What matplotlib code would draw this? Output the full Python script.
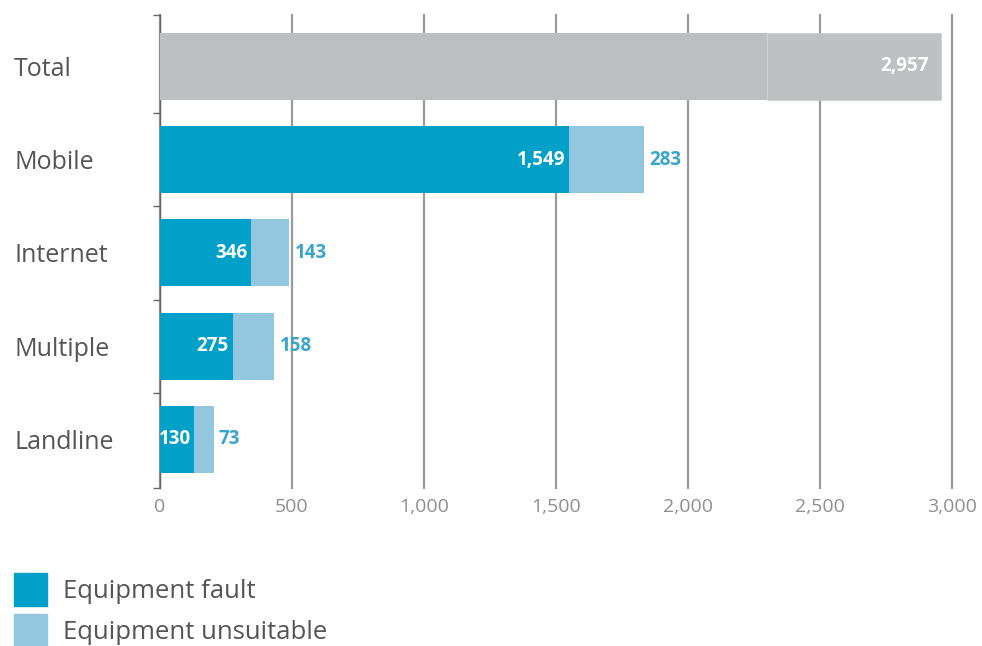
import matplotlib.pyplot as plt
from matplotlib.patches import Patch
from matplotlib.ticker import MultipleLocator, FuncFormatter

plt.rcParams["font.family"] = ["Open Sans", "DejaVu Sans"]

# data
categories = ["Total", "Mobile", "Internet", "Multiple", "Landline"]
fault = [1549, 346, 275, 130]
unsuitable = [283, 143, 158, 73]
total_fault = sum(fault)
total_unsuitable = sum(unsuitable)
total = total_fault + total_unsuitable

fault_color = "#00a0c8"
unsuit_color = "#93c6df"
label_blue = "#3aa5cc"
gray = "#bebfc1"

fig = plt.figure(figsize=(9.82, 6.46), dpi=100)
ax = fig.add_axes([160 / 982, 1 - 488 / 646, 792 / 982, 473 / 646])

h = 0.72
# Total bar: two gray segments (fault + unsuitable)
ax.barh(0, total_fault, height=h, color=gray, zorder=3)
ax.barh(0, total_unsuitable, left=total_fault, height=h, color="#bfc0c2",
        edgecolor="#c6c7c9", linewidth=0.4, zorder=3)
ax.text(total - 45, 0, f"{total:,}", color="white", fontweight="bold",
        fontsize=13.5, ha="right", va="center", zorder=4)

ys = list(range(1, len(categories)))
ax.barh(ys, fault, height=h, color=fault_color, zorder=3)
ax.barh(ys, unsuitable, left=fault, height=h, color=unsuit_color, zorder=3)
for y, f, u in zip(ys, fault, unsuitable):
    ax.text(f - 14, y, f"{f:,}", color="white", fontweight="bold",
            fontsize=13.5, ha="right", va="center", zorder=4)
    ax.text(f + u + 20, y, f"{u:,}", color=label_blue, fontweight="bold",
            fontsize=13.5, ha="left", va="center", zorder=4)

ax.set_xlim(0, 3000)
ax.set_ylim(4.52, -0.55)
ax.xaxis.set_major_locator(MultipleLocator(500))
ax.xaxis.set_major_formatter(FuncFormatter(lambda v, p: f"{int(v):,}"))
ax.grid(axis="x", color="#9a9a9a", linewidth=1.6, zorder=0)
for gl in ax.get_xgridlines():
    gl.set_clip_on(False)
ax.tick_params(axis="x", length=0, pad=7, labelsize=14, labelcolor="#8f8f8f")

ax.set_yticks(range(len(categories)))
ax.set_yticklabels(categories)
ax.tick_params(axis="y", which="major", length=0, pad=105, labelsize=18,
               labelcolor="#555555")
for lab in ax.get_yticklabels():
    lab.set_horizontalalignment("left")
ax.set_yticks([-0.55, 0.5, 1.5, 2.5, 3.5, 4.52], minor=True)
ax.tick_params(axis="y", which="minor", length=5, width=1, color="#666666")

for s in ["top", "right", "bottom"]:
    ax.spines[s].set_visible(False)
ax.spines["left"].set_color("#666666")
ax.spines["left"].set_linewidth(1)

handles = [Patch(color=fault_color, label="Equipment fault"),
           Patch(color=unsuit_color, label="Equipment unsuitable")]
fig.legend(handles=handles, loc="upper left", bbox_to_anchor=(0.0143, 0.113),
           frameon=False, fontsize=18.5, handlelength=1.27, handleheight=1.6,
           handletextpad=0.62, labelspacing=0.32, labelcolor="#555555",
           borderaxespad=0, borderpad=0)

fig.savefig("out.png", dpi=100)
